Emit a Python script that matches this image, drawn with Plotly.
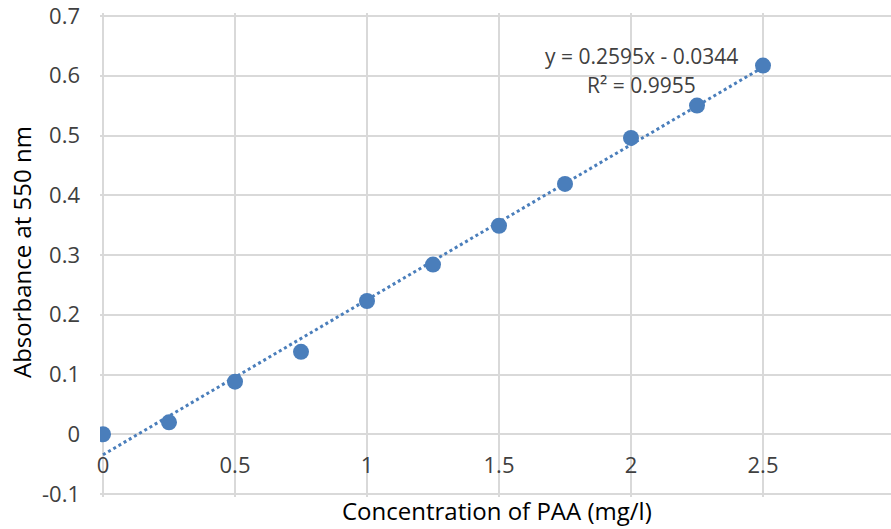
import plotly.graph_objects as go

conc = [0, 0.25, 0.5, 0.75, 1.0, 1.25, 1.5, 1.75, 2.0, 2.25, 2.5]
absorb = [0.0, 0.02, 0.088, 0.138, 0.223, 0.284, 0.349, 0.419, 0.496, 0.550, 0.617]
slope = 0.2595
intercept = -0.0344
x_ticks = [0, 0.5, 1, 1.5, 2, 2.5, 3]
x_tick_labels = ["0", "0.5", "1", "1.5", "2", "2.5", "3"]
y_ticks = [-0.1, 0, 0.1, 0.2, 0.3, 0.4, 0.5, 0.6, 0.7]
y_tick_labels = ["-0.1", "0", "0.1", "0.2", "0.3", "0.4", "0.5", "0.6", "0.7"]

blue = "#4a7ebb"
grid = "#d9d9d9"
font = "Open Sans"

trend_x = [conc[0], conc[-1]]
trend_y = [slope * v + intercept for v in trend_x]

fig = go.Figure()
fig.add_trace(go.Scatter(x=trend_x, y=trend_y, mode="lines",
                         line=dict(color=blue, width=3, dash="dot"),
                         hoverinfo="skip", showlegend=False))
fig.add_trace(go.Scatter(x=conc, y=absorb, mode="markers",
                         marker=dict(color=blue, size=16),
                         showlegend=False))

px_x = 1 / 264      # one pixel in x data units
px_y = 0.8 / 478    # one pixel in y data units

fig.update_layout(
    width=891, height=529,
    margin=dict(l=100, r=0, t=13, b=32),
    paper_bgcolor="white", plot_bgcolor="white",
    font=dict(family=font, size=22, color="#404040"),
    xaxis=dict(range=[-3 * px_x, 788 * px_x], tickvals=x_ticks, ticktext=x_tick_labels,
               showgrid=True, gridcolor=grid, gridwidth=2,
               zeroline=False, showline=False, ticks="",
               anchor="free", position=63 / 484, automargin=False,
               ticklabelstandoff=16, ticklabeloverflow="allow",
               tickfont=dict(size=22, color="#404040")),
    yaxis=dict(range=[-0.1 - 3 * px_y, 0.7 + 3 * px_y], tickvals=y_ticks, ticktext=y_tick_labels,
               showgrid=True, gridcolor=grid, gridwidth=2,
               zeroline=True, zerolinecolor=grid, zerolinewidth=2,
               showline=False, ticks="", ticklabelstandoff=19, automargin=False,
               ticklabeloverflow="allow",
               tickfont=dict(size=22, color="#404040")),
    annotations=[
        dict(text="Concentration of PAA (mg/l)", xref="x", yref="paper",
             x=1.4924, y=0, yshift=-32, showarrow=False,
             xanchor="center", yanchor="bottom",
             font=dict(size=24, color="#000000")),
        dict(text="Absorbance at 550 nm", xref="paper", yref="y",
             x=0, xshift=-78, y=0.305, textangle=-90, showarrow=False,
             xanchor="center", yanchor="middle", height=26,
             font=dict(size=24, color="#000000")),
        dict(text="y = 0.2595x - 0.0344", xref="x", yref="y",
             x=2.038, y=0.633, showarrow=False, xanchor="center", yanchor="middle",
             font=dict(size=21, color="#404040")),
        dict(text="R² = 0.9955", xref="x", yref="y",
             x=2.038, y=0.585, showarrow=False, xanchor="center", yanchor="middle",
             font=dict(size=21, color="#404040")),
    ],
)

fig.write_html("out.html", config={"displayModeBar": False},
               post_script="document.body.style.margin='0';")
